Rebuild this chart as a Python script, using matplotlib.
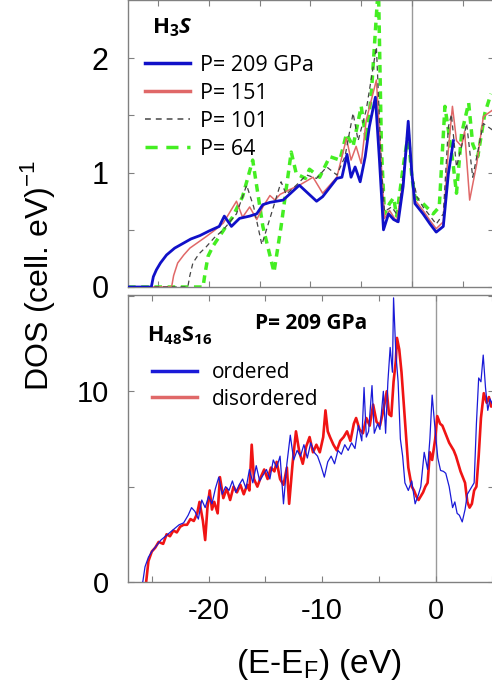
import matplotlib
matplotlib.use("Agg")
import matplotlib.pyplot as plt
from matplotlib.lines import Line2D

plt.rcParams['axes.unicode_minus'] = False
plt.rcParams['font.family'] = ['Liberation Sans', 'DejaVu Sans']
plt.rcParams['mathtext.fontset'] = 'custom'
plt.rcParams['mathtext.rm'] = 'Liberation Sans'
plt.rcParams['mathtext.bf'] = 'Open Sans:bold'
plt.rcParams['mathtext.bfit'] = 'Open Sans:italic:bold'

# ---------------- top panel: H3S ----------------
e209 = [-28, -25.7, -25.5, -25.2, -24.8, -24.2, -23.4, -22.6, -21.8, -20.9, -20.0, -19.0, -18.5, -17.8, -17.0,
        -16.0, -15.3, -14.7, -14.0, -12.7, -11.1, -9.4, -8.8, -7.4, -6.9, -6.4, -6.0, -5.6, -5.1, -4.6, -4.2,
        -3.6, -3.2, -2.8, -2.3, -1.8, -1.35, -0.86, -0.36, 0.0, 0.3, 1.1, 1.8, 2.4, 3.1, 3.6, 4.1]
d209 = [0, 0, 0.09, 0.15, 0.21, 0.28, 0.34, 0.38, 0.42, 0.45, 0.49, 0.53, 0.62, 0.53, 0.60,
        0.62, 0.64, 0.72, 0.74, 0.76, 0.89, 0.75, 0.79, 0.95, 0.96, 1.16, 0.96, 1.05, 0.92, 1.14, 1.40,
        1.66, 1.11, 0.50, 0.64, 0.59, 0.57, 0.88, 1.45, 0.99, 0.73, 0.64, 0.55, 0.48, 0.53, 0.99, 1.28]

e151 = [-28, -23.7, -23.5, -23.1, -22.5, -21.9, -21.1, -20.3, -19.4, -18.6, -17.3, -16.7, -16.0, -15.3,
        -14.7, -14.0, -13.5, -13.0, -12.1, -11.1, -9.75, -8.8, -7.4, -6.45, -6.0, -5.5, -5.0, -4.5, -3.5,
        -3.0, -2.7, -2.2, -1.5, -0.86, -0.36, 0.0, 0.3, 1.1, 1.8, 2.4, 3.1, 3.6, 4.0, 4.4, 4.9, 5.2, 5.7,
        6.4, 7.05, 8.0]
d151 = [0, 0, 0.1, 0.21, 0.28, 0.34, 0.39, 0.44, 0.50, 0.56, 0.75, 0.61, 0.70, 0.59,
        0.70, 0.80, 0.76, 0.81, 0.85, 0.89, 0.96, 0.82, 0.96, 1.30, 1.11, 1.23, 1.08, 1.46, 1.81,
        1.05, 0.60, 0.67, 0.57, 0.93, 1.43, 0.99, 0.76, 0.67, 0.58, 0.51, 0.57, 1.20, 1.58, 1.28, 1.23, 1.36, 0.76,
        1.08, 1.49, 1.55]

e101 = [-28, -22.1, -21.9, -21.6, -21.0, -20.3, -19.5, -18.6, -17.3, -16.3, -15.6, -14.8, -14.0, -12.9,
        -12.4, -11.4, -10.4, -9.4, -8.4, -7.4, -6.6, -5.8, -5.3, -4.5, -3.5, -3.0, -2.7, -2.0, -1.35,
        -0.7, -0.36, 0.0, 0.5, 1.1, 1.8, 2.4, 3.1, 3.6, 3.9, 4.4, 4.9, 5.4, 6.0, 7.05, 8.0]
d101 = [0, 0, 0.1, 0.21, 0.29, 0.35, 0.43, 0.50, 0.64, 0.89, 0.70, 0.37, 0.60, 0.92,
        0.81, 0.89, 0.98, 0.95, 1.05, 0.98, 1.14, 1.52, 1.28, 1.55, 2.10, 1.05, 0.66, 0.70, 0.62,
        1.11, 1.43, 0.99, 0.79, 0.70, 0.62, 0.55, 0.64, 1.40, 1.51, 1.05, 1.23, 1.43, 0.96, 1.43, 1.37]

e64 = [-28, -20.6, -20.4, -20.1, -19.6, -19.0, -18.4, -17.7, -16.7, -15.7, -14.7, -13.6, -12.9, -11.9,
       -11.4, -10.5, -10.1, -9.1, -8.1, -7.1, -6.45, -5.8, -5.0, -4.5, -4.0, -3.3, -3.0, -2.7, -2.2,
       -1.8, -1.5, -0.86, -0.36, 0.0, 0.3, 1.1, 2.1, 2.7, 3.26, 3.75, 4.1, 4.4, 4.9, 5.6, 6.0, 6.5,
       7.2, 7.8]
d64 = [0, 0, 0.12, 0.27, 0.36, 0.44, 0.52, 0.61, 0.79, 1.11, 0.53, 0.13, 0.53, 1.18,
       0.99, 0.95, 1.03, 0.96, 1.14, 1.11, 1.34, 1.23, 1.58, 1.28, 1.69, 2.65, 1.20, 0.64, 0.73,
       0.78, 0.62, 1.05, 1.34, 0.96, 0.79, 0.73, 0.64, 0.70, 1.58, 1.28, 1.05, 0.82, 1.34, 1.61, 1.25, 1.14,
       1.52, 1.69]

top_labels = ['P= 209 GPa', 'P= 151', 'P= 101', 'P= 64']

# ---------------- bottom panel: H48S16 ----------------
e_ord = [-25.8, -25.6, -25.3, -25.0, -24.6, -24.2, -23.8, -23.4, -23.0, -22.6, -22.2, -21.8, -21.5, -21.2,
         -20.9, -20.6, -20.3, -20.0, -19.7, -19.4, -19.1, -18.8, -18.5, -18.2, -17.9, -17.6, -17.3, -17.0,
         -16.7, -16.4, -16.1, -15.8, -15.5, -15.2, -14.9, -14.6, -14.3, -14.0, -13.7, -13.4, -13.1, -12.8,
         -12.5, -12.2, -11.9, -11.6, -11.3, -11.0, -10.7, -10.4, -10.1, -9.8, -9.5, -9.2, -8.9, -8.6,
         -8.3, -8.0, -7.7, -7.4, -7.1, -6.8, -6.5, -6.3, -6.1, -5.9, -5.6, -5.4, -5.1, -4.9, -4.6,
         -4.4, -4.2, -4.0, -3.8, -3.7, -3.5, -3.3, -3.1, -2.9, -2.7, -2.4, -2.1, -1.8, -1.5, -1.3,
         -1.0, -0.7, -0.5, -0.3, 0.0, 0.2, 0.44, 0.7, 0.9, 1.2, 1.5, 1.7, 1.9, 2.1, 2.35, 2.6, 2.8,
         3.1, 3.4, 3.6, 3.8, 4.0, 4.2, 4.4, 4.6, 4.8, 5.1]
d_ord = [0, 0.8, 1.3, 1.6, 1.9, 2.2, 2.4, 2.6, 2.8, 3.0, 3.1, 3.5, 3.9, 3.7,
         3.3, 4.3, 3.9, 4.5, 4.1, 4.9, 5.5, 4.6, 5.0, 4.8, 5.3, 4.7, 5.1, 5.4,
         4.9, 5.9, 5.2, 6.1, 5.3, 5.6, 5.9, 5.4, 6.4, 6.0, 6.6, 4.1, 6.2, 7.7,
         6.4, 6.9, 6.6, 7.2, 6.5, 7.3, 6.8, 6.6, 6.1, 5.5, 6.3, 6.6, 6.2, 6.9,
         6.7, 7.2, 6.9, 7.3, 7.0, 8.2, 7.4, 10.2, 7.6, 7.9, 10.3, 7.8, 8.3, 8.0, 10.0,
         7.8, 10.5, 12.3, 11.0, 14.9, 12.0, 10.5, 7.5, 6.6, 5.2, 4.8, 5.3, 4.1, 4.6, 5.0,
         6.8, 5.9, 7.5, 9.8, 7.7, 6.5, 5.85, 5.8, 5.7, 5.0, 3.9, 4.2, 3.6, 3.5, 3.15, 3.8, 4.6,
         4.9, 5.2, 8.3, 10.7, 10.5, 11.9, 10.2, 9.0, 9.6, 9.2]

e_dis = [-25.5, -25.3, -25.0, -24.7, -24.4, -24.0, -23.7, -23.4, -23.1, -22.8, -22.5, -22.2, -21.9, -21.6,
         -21.3, -21.0, -20.8, -20.5, -20.3, -20.1, -19.9, -19.7, -19.5, -19.2, -19.0, -18.7, -18.4, -18.1,
         -17.8, -17.5, -17.2, -16.9, -16.6, -16.4, -16.2, -16.0, -15.7, -15.4, -15.1, -14.8, -14.5, -14.2,
         -14.0, -13.7, -13.4, -13.1, -12.9, -12.6, -12.3, -12.0, -11.7, -11.4, -11.1, -10.8, -10.5, -10.2,
         -9.9, -9.7, -9.5, -9.3, -9.0, -8.7, -8.4, -8.1, -7.8, -7.5, -7.2, -7.0, -6.7, -6.4, -6.1,
         -5.8, -5.5, -5.2, -4.9, -4.6, -4.3, -4.1, -3.9, -3.7, -3.5, -3.4, -3.2, -3.0, -2.7, -2.4,
         -2.1, -1.9, -1.7, -1.5, -1.3, -1.1, -0.9, -0.7, -0.5, -0.3, -0.03, 0.15, 0.4, 0.6, 0.8, 1.0,
         1.2, 1.4, 1.6, 1.8, 2.0, 2.2, 2.4, 2.6, 2.8, 3.0, 3.2, 3.4, 3.6, 3.8, 4.0, 4.25, 4.5, 4.7,
         4.9, 5.1]
d_dis = [0, 1.1, 1.6, 1.8, 2.1, 2.0, 2.5, 2.4, 2.7, 2.6, 2.9, 3.0, 3.0, 3.3,
         3.2, 3.6, 4.2, 3.2, 2.2, 3.9, 4.8, 3.8, 4.2, 3.6, 5.5, 4.4, 4.9, 4.3,
         5.0, 4.7, 5.1, 4.6, 5.1, 4.8, 7.2, 5.4, 5.0, 5.5, 5.9, 5.4, 6.0, 5.8,
         6.3, 5.4, 5.1, 6.0, 4.1, 6.2, 7.9, 6.8, 6.2, 7.1, 7.6, 6.8, 7.2, 6.8,
         7.6, 9.0, 7.9, 7.6, 7.2, 6.9, 7.4, 7.6, 7.9, 7.4, 8.3, 8.6, 8.0, 7.8, 8.6,
         8.2, 9.3, 8.4, 8.2, 9.0, 10.0, 8.8, 8.7, 10.5, 11.6, 12.8, 12.2, 11.0, 8.5, 6.0,
         5.0, 4.8, 4.5, 4.3, 4.5, 4.7, 5.0, 5.2, 6.8, 6.4, 7.5, 8.7, 8.3, 8.2, 7.9, 7.6,
         7.3, 7.1, 6.9, 6.6, 6.2, 5.8, 5.5, 5.2, 4.2, 3.9, 4.1, 4.8, 5.0, 6.6, 8.6, 9.9, 9.4, 9.7,
         9.2, 9.5]

bot_labels = ['ordered', 'disordered']

W, H = 492, 685
fig = plt.figure(figsize=(W / 100, H / 100), dpi=100)

def fx(px):
    return px / W

def fy(py):
    return 1 - py / H

ax1 = fig.add_axes([fx(128), fy(287), fx(494) - fx(128), fy(0) - fy(287)])
ax2 = fig.add_axes([fx(128), fy(582), fx(494) - fx(128), fy(295) - fy(582)])

blue = '#1010c8'
salmon = '#e06868'
green = '#44ee22'
bold_fam = ['Open Sans', 'DejaVu Sans']

ax1.axvline(0, color='#9a9a9a', lw=1.0, zorder=1)
ax1.plot(e151, d151, color=salmon, lw=1.1, zorder=3)
ax1.plot(e101, d101, color='#444444', lw=0.9, ls=(0, (4, 3)), zorder=3)
ax1.plot(e64, d64, color=green, lw=2.5, ls=(0, (2.2, 1.6)), zorder=2)
ax1.plot(e209, d209, color=blue, lw=2.0, zorder=4)
ax1.set_xlim(-28, 8.1)
ax1.set_ylim(0, 2.51)
ax1.set_xticks([-25, -20, -15, -10, -5, 0, 5])
ax1.set_xticklabels([])
ax1.set_yticks([0, 0.5, 1, 1.5, 2])
ax1.set_yticklabels(['0', '', '1', '', '2'])

h_top = [Line2D([], [], color=blue, lw=2.5),
         Line2D([], [], color=salmon, lw=2.5),
         Line2D([], [], color='#555555', lw=1.2, ls=(0, (3.5, 3))),
         Line2D([], [], color=green, lw=2.5, ls=(0, (3.5, 2.5)))]
ax1.legend(h_top, top_labels, loc='upper left', bbox_to_anchor=(0.046, 0.81),
           frameon=False, handlelength=2.1, handletextpad=0.47,
           labelspacing=0.33, borderpad=0, borderaxespad=0,
           prop={'family': bold_fam, 'size': 15.5})
ax1.text(0.066, 0.885, r'H$_\mathbf{3}$$\mathbfit{S}$', transform=ax1.transAxes, fontsize=16,
         fontweight='bold', family=bold_fam, va='baseline', ha='left')

ax2.axvline(0, color='#9a9a9a', lw=1.0, zorder=1)
ax2.plot(e_ord, d_ord, color='#1a1ad8', lw=0.9, zorder=3)
ax2.plot(e_dis, d_dis, color='#f01414', lw=1.9, zorder=2)
ax2.set_xlim(-27.1, 5.15)
ax2.set_ylim(0, 15.05)
ax2.set_xticks([-25, -20, -15, -10, -5, 0, 5])
ax2.set_xticklabels(['', '-20', '', '-10', '', '0', ''])
ax2.set_yticks([0, 5, 10, 15])
ax2.set_yticklabels(['0', '', '10', ''])

h_bot = [Line2D([], [], color='#1a1ad8', lw=2.5),
         Line2D([], [], color=salmon, lw=2.5)]
ax2.legend(h_bot, bot_labels, loc='upper left', bbox_to_anchor=(0.066, 0.765),
           frameon=False, handlelength=2.16, handletextpad=0.72, labelspacing=0.25,
           borderpad=0, borderaxespad=0,
           prop={'family': bold_fam, 'size': 15})
ax2.text(0.052, 0.84, r'H$_\mathbf{48}$S$_\mathbf{16}$', transform=ax2.transAxes, fontsize=15.5,
         fontweight='bold', family=bold_fam, va='baseline', ha='left')
ax2.text(0.347, 0.881, 'P= 209 GPa', transform=ax2.transAxes, fontsize=15,
         fontweight='bold', family=bold_fam, va='baseline', ha='left')

for ax in (ax1, ax2):
    for s in ax.spines.values():
        s.set_color('#808080')
        s.set_linewidth(1.0)
    ax.tick_params(direction='in', length=4, width=0.8, color='#808080',
                   top=True, right=True, pad=8)
ax1.tick_params(axis='y', labelsize=22, pad=14)
ax2.tick_params(axis='y', labelsize=21, pad=14)
ax2.tick_params(axis='x', labelsize=21, pad=11)

fig.text(fx(38), fy(275), r'DOS (cell. eV)$^{-1}$', rotation=90, fontsize=23,
         ha='center', va='center')
fig.text(fx(319), fy(664), r'(E-E$_\mathrm{F}$) (eV)', fontsize=24, ha='center', va='center')

fig.savefig('out.png', dpi=100)
